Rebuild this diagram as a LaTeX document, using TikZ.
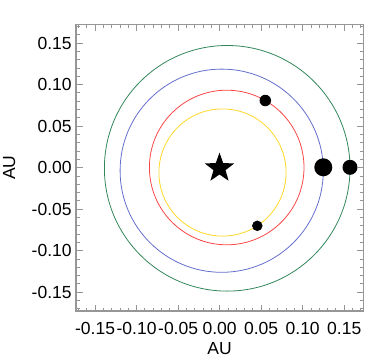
\documentclass[tikz,border=0pt]{standalone}
\usepackage{fontspec}
\setmainfont{Liberation Sans}
\usetikzlibrary{shapes.geometric}
\definecolor{orbgreen}{RGB}{50,135,90}
\definecolor{orbblue}{RGB}{100,110,205}
\definecolor{orbred}{RGB}{250,70,70}
\definecolor{orbyellow}{RGB}{255,215,40}
\definecolor{axgrey}{RGB}{150,150,150}
\tikzset{
  axisline/.style={draw=axgrey, line width=1.6pt},
  tickline/.style={draw=axgrey, line width=0.9pt},
  orbit/.style={line width=0.8pt},
  planet/.style={circle, fill=black, inner sep=0pt},
  ticklabel/.style={inner sep=0pt, font=\fontsize{17.5}{18}\selectfont},
  axlabel/.style={inner sep=0pt, font=\fontsize{17.5}{18}\selectfont},
  starnode/.style={star, star points=5, star point ratio=2.45, fill=black, inner sep=0pt, minimum size=31pt}
}
\begin{document}
\begin{tikzpicture}[x=1pt,y=-1pt]
\useasboundingbox (0,0) rectangle (381,360);
\def\cx{219.65}
\def\cy{167.65}
\def\u{8.304}
% orbits
\draw[orbit, orbgreen] (227.2,168.3) circle[radius=122.8];
\draw[orbit, orbblue] (221.7,170.7) circle[radius=101.6];
\draw[orbit, orbred] (226.7,167.5) circle[radius=77.3];
\draw[orbit, orbyellow] (222.5,172.5) circle[radius=63.6];
% star and planets
\node[starnode] (star) at (219.5,168.2) {};
\node[planet, minimum size=18pt] (pblue) at (323.3,167.3) {};
\node[planet, minimum size=15pt] (pgreen) at (350,167.3) {};
\node[planet, minimum size=11.5pt] (pred) at (265.3,100.5) {};
\node[planet, minimum size=10.5pt] (pyellow) at (257.3,225.8) {};
% frame
\draw[axisline] (76,24.3) rectangle (363.3,311);
% ticks
\foreach \i in {-17,...,17} {
  \pgfmathsetmacro\len{ifthenelse(mod(abs(\i),5)==0,6.5,3.5)}
  \pgfmathsetmacro\px{\cx+\i*\u}
  \pgfmathsetmacro\py{\cy-\i*\u}
  \draw[tickline] (\px,311) -- ++(0,-\len);
  \draw[tickline] (\px,24.3) -- ++(0,\len);
  \draw[tickline] (76,\py) -- ++(\len,0);
  \draw[tickline] (363.3,\py) -- ++(-\len,0);
}
% tick labels
\foreach \i/\t in {-15/-0.15,-10/-0.10,-5/-0.05,0/0.00,5/0.05,10/0.10,15/0.15} {
  \node[ticklabel, anchor=base] (xl\i) at (\cx+\i*\u,334) {\t};
  \node[ticklabel, anchor=east] (yl\i) at (71.8,\cy-\i*\u) {\t};
}
\node[axlabel] (xlab) at (219.65,348.8) {AU};
\node[axlabel, rotate=90] (ylab) at (9.3,167.65) {AU};
\end{tikzpicture}
\end{document}
